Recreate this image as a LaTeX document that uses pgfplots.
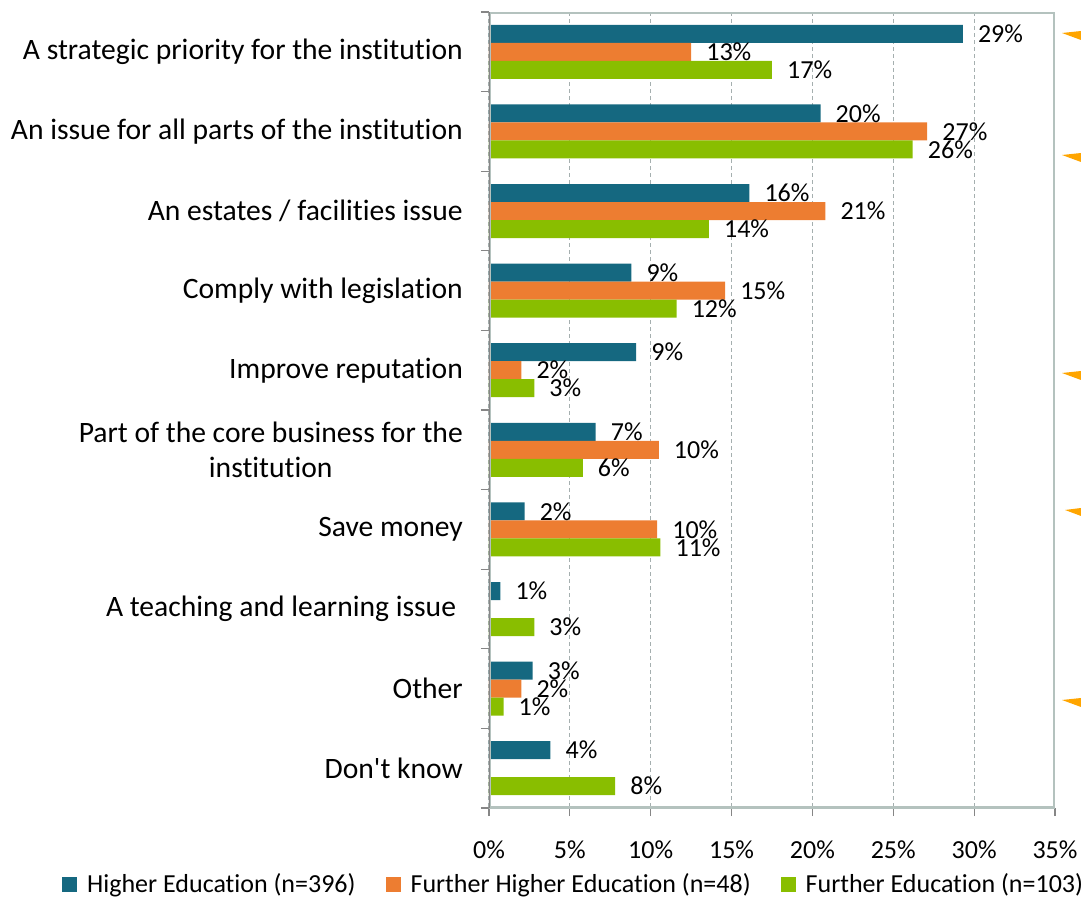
\documentclass[border=0pt]{standalone}
\usepackage{fontspec}
\setmainfont{Carlito}[Ligatures={TeX,NoCommon}]
\usepackage{pgfplots}
\pgfplotsset{compat=1.18}
\definecolor{heC}{RGB}{21,104,128}
\definecolor{fheC}{RGB}{237,125,49}
\definecolor{feC}{RGB}{137,190,0}
\definecolor{borderC}{RGB}{180,194,190}
\definecolor{axisC}{RGB}{134,134,134}
\definecolor{gridC}{RGB}{165,175,175}
\definecolor{arrowC}{RGB}{255,165,0}
\newcommand{\bigfont}{\fontsize{26bp}{33bp}\selectfont}
\newcommand{\catfont}{\fontsize{29.6bp}{35bp}\selectfont}
\begin{document}
\begin{tikzpicture}
\useasboundingbox (-489bp,-95bp) rectangle (592bp,808bp);
\begin{axis}[
  at={(0bp,0bp)}, anchor=south west,
  scale only axis, width=566bp, height=796bp,
  xbar, bar width=18bp,
  xmin=0, xmax=35,
  ymin=-0.5, ymax=9.5, y dir=reverse,
  xtick={0,5,...,35},
  xticklabels={0\%,5\%,10\%,15\%,20\%,25\%,30\%,35\%},
  ytick={-0.5,0.5,...,9.5},
  yticklabels={},
  extra y ticks={0,1,2,3,4,5,6,7,8,9},
  extra y tick labels={
    {A strategic priority for the institution},
    {An issue for all parts of the institution},
    {An estates / facilities issue},
    {Comply with legislation},
    {Improve reputation},
    {Part of the core business for the\\institution},
    {Save money},
    {A teaching and learning issue\ },
    {Other},
    {Don\textquotesingle t know}},
  extra y tick style={major tick length=0pt, grid=none},
  xtick pos=bottom, ytick pos=left,
  tick align=outside, major tick length=8bp,
  tick style={axisC, line width=1.2bp},
  xmajorgrids=true,
  major grid style={gridC, line width=1bp, dash pattern=on 4bp off 3bp},
  axis line style={draw=none},
  xticklabel style={font=\bigfont, inner sep=0pt, yshift=-25bp},
  yticklabel style={font=\catfont, align=center, inner sep=0pt, xshift=-26bp},
  point meta=explicit symbolic,
  nodes near coords={\pgfplotspointmeta\%},
  every node near coord/.append style={font=\bigfont, inner sep=0pt, anchor=west, xshift=15bp, black},
  legend columns=3,
  legend style={at={(-0.7544,-0.0955)}, anchor=west, draw=none, fill=none,
    font=\bigfont, inner sep=0pt,
    /tikz/every even column/.append style={column sep=28bp},
    /tikz/every odd column/.append style={column sep=8bp}},
  legend cell align=left,
  legend image code/.code={\fill[#1] (0bp,-7.5bp) rectangle (15bp,7.5bp);},
]
\addplot[fill=heC, draw=none, bar shift=18bp] table[x=x, y=y, meta=l] {
x y l
29.3 0 29
20.5 1 20
16.1 2 16
8.8 3 9
9.1 4 9
6.6 5 7
2.2 6 2
0.7 7 1
2.7 8 3
3.8 9 4
};
\addlegendentry{Higher Education (n=396)}
\addplot[fill=fheC, draw=none, bar shift=0bp] table[x=x, y=y, meta=l] {
x y l
12.5 0 13
27.1 1 27
20.8 2 21
14.6 3 15
2.0 4 2
10.5 5 10
10.4 6 10
2.0 8 2
};
\addlegendentry{Further Higher Education (n=48)}
\addplot[fill=feC, draw=none, bar shift=-18bp] table[x=x, y=y, meta=l] {
x y l
17.5 0 17
26.2 1 26
13.6 2 14
11.6 3 12
2.8 4 3
5.8 5 6
10.6 6 11
2.8 7 3
0.9 8 1
7.8 9 8
};
\addlegendentry{Further Education (n=103)}
\draw[borderC, line width=3.5bp] (axis description cs:0,0) rectangle (axis description cs:1,1);
\draw[axisC, line width=1.5bp] (axis description cs:0,0) -- (axis description cs:0,1);
\end{axis}
\fill[arrowC] (573bp,775bp) -- (592bp,777bp) -- (592bp,768bp) -- cycle;
\fill[arrowC] (573bp,653bp) -- (592bp,655bp) -- (592bp,646bp) -- cycle;
\fill[arrowC] (573bp,435bp) -- (592bp,437bp) -- (592bp,428bp) -- cycle;
\fill[arrowC] (576bp,298bp) -- (592bp,300bp) -- (592bp,292bp) -- cycle;
\fill[arrowC] (573bp,108bp) -- (592bp,110bp) -- (592bp,101bp) -- cycle;
\end{tikzpicture}
\end{document}
